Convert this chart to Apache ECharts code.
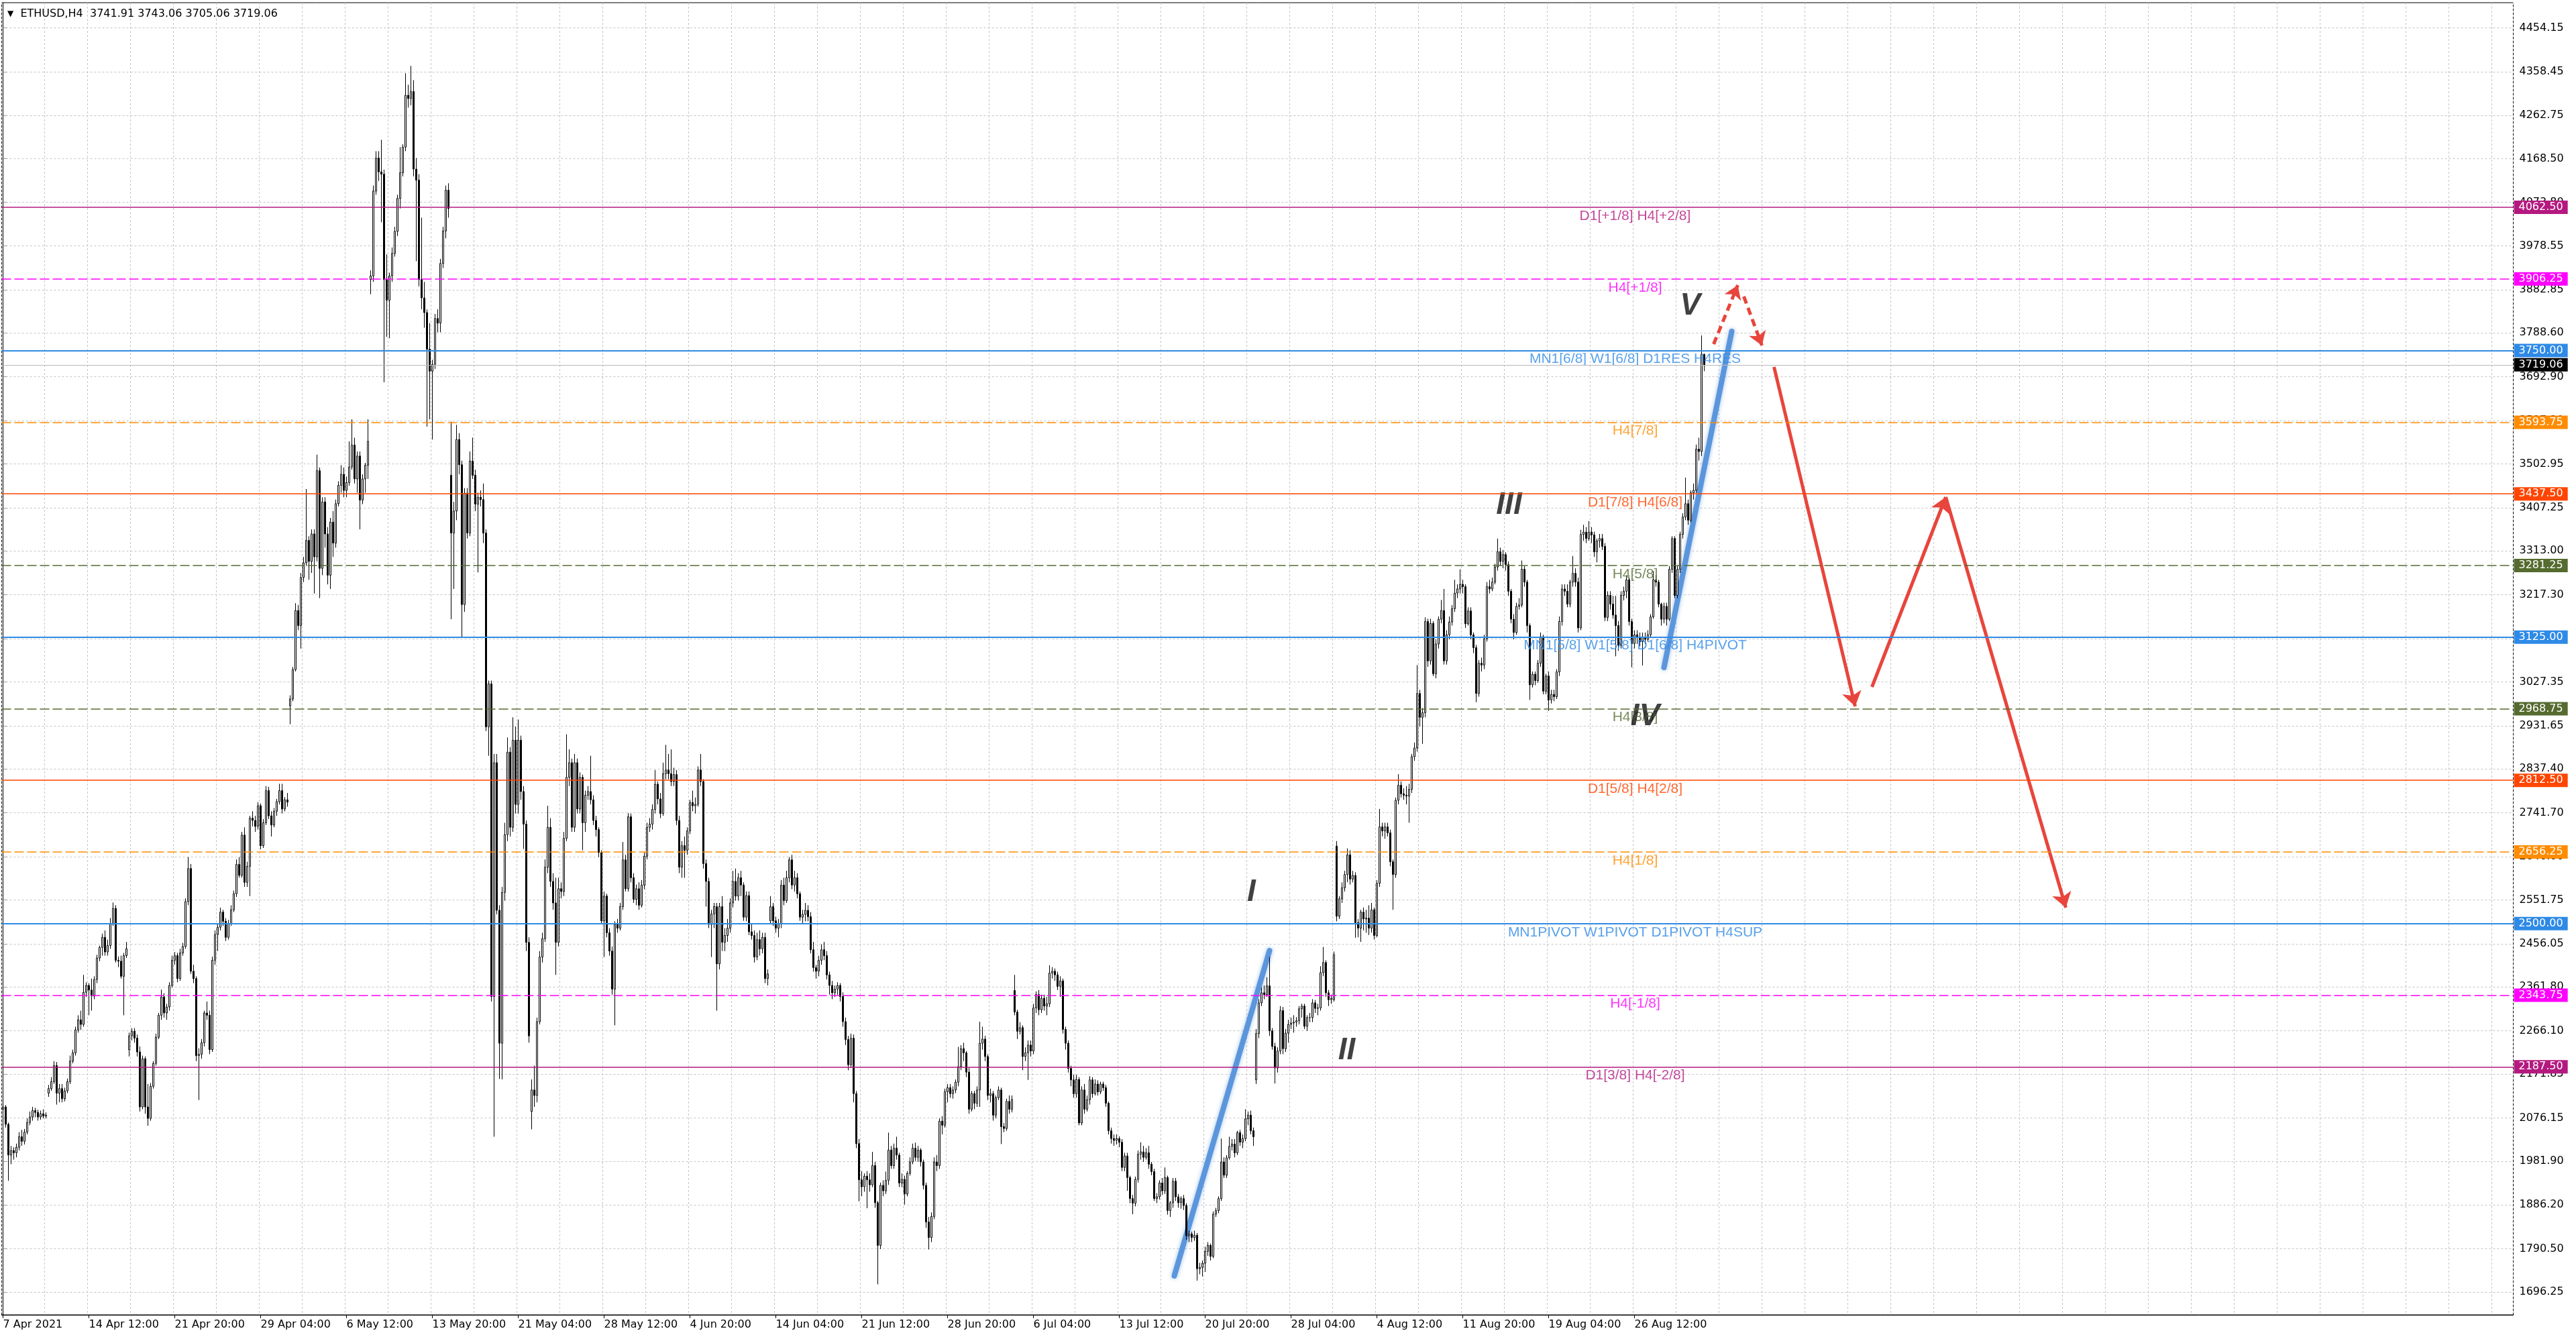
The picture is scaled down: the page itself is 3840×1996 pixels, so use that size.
<!DOCTYPE html>
<html>
<head>
<meta charset="utf-8">
<title>ETHUSD,H4</title>
<script src="https://cdn.jsdelivr.net/npm/echarts@6/dist/echarts.min.js"></script>
<style>
html, body { margin: 0; padding: 0; background: #fff; }
#chart { width: 3840px; height: 1996px; }
</style>
</head>
<body>
<div id="chart"></div>
<script>
// time axis labels, one every 32 bars
var timeLabels = ['7 Apr 2021', '14 Apr 12:00', '21 Apr 20:00', '29 Apr 04:00', '6 May 12:00', '13 May 20:00',
    '21 May 04:00', '28 May 12:00', '4 Jun 20:00', '14 Jun 04:00', '21 Jun 12:00', '28 Jun 20:00', '6 Jul 04:00',
    '13 Jul 12:00', '20 Jul 20:00', '28 Jul 04:00', '4 Aug 12:00', '11 Aug 20:00', '19 Aug 04:00', '26 Aug 12:00'];

// price scale labels as printed by the terminal
var priceTicks = [4454.15, 4358.45, 4262.75, 4168.50, 4073.80, 3978.55, 3882.85, 3788.60, 3692.90, 3597.20,
    3502.95, 3407.25, 3313.00, 3217.30, 3121.60, 3027.35, 2931.65, 2837.40, 2741.70, 2646.00, 2551.75,
    2456.05, 2361.80, 2266.10, 2171.85, 2076.15, 1981.90, 1886.20, 1790.50, 1696.25];

// H4 bars: [open, close, low, high]
var ohlc = [
[2095,2100,2088,2110],[2100,2062,2055,2104],[2062,1995,1939,2066],[1995,2005,1975,2015],[2005,2000,1985,2012],[2000,2012,1990,2020],[2012,2035,2005,2045],[2035,2025,2015,2050],[2025,2045,2018,2052],[2045,2066,2040,2075],[2066,2078,2060,2090],[2078,2092,2070,2100],[2092,2088,2078,2098],[2088,2078,2070,2094],[2078,2085,2072,2092],[2085,2080,2075,2095],[2080,2082,2075,2088],
[2130,2140,2122,2148],[2140,2155,2135,2165],[2155,2190,2150,2200],[2190,2130,2105,2198],[2130,2140,2110,2150],[2140,2118,2110,2150],[2118,2135,2112,2142],[2135,2155,2130,2162],[2155,2200,2150,2212],[2200,2218,2195,2225],[2218,2268,2212,2275],[2268,2290,2262,2300],[2290,2280,2268,2310],[2280,2350,2275,2388],[2350,2365,2340,2372],[2365,2355,2300,2370],[2355,2342,2310,2380],[2342,2378,2335,2385],
[2378,2425,2370,2432],[2425,2448,2418,2452],[2448,2470,2430,2478],[2470,2438,2430,2485],[2438,2452,2430,2465],[2452,2500,2445,2512],[2500,2533,2495,2546],[2533,2420,2415,2540],[2420,2418,2405,2428],[2418,2385,2380,2430],[2385,2430,2300,2436],[2430,2445,2425,2460],
[2225,2255,2210,2262],[2255,2265,2245,2272],[2265,2250,2240,2272],[2250,2220,2210,2258],[2220,2100,2090,2232],[2100,2205,2095,2212],[2205,2100,2085,2210],[2100,2075,2059,2150],[2075,2145,2070,2152],[2145,2195,2140,2200],[2195,2252,2190,2260],[2252,2300,2248,2305],[2300,2340,2290,2356],[2340,2305,2295,2348],[2305,2318,2290,2325],[2318,2365,2310,2372],[2365,2420,2360,2430],[2420,2430,2410,2438],[2430,2380,2372,2436],[2380,2436,2375,2445],[2436,2450,2430,2458],[2450,2548,2445,2555],[2548,2620,2540,2645],[2620,2396,2390,2630],[2396,2380,2370,2410],[2380,2212,2200,2385],[2212,2215,2115,2228],[2215,2240,2205,2248],[2240,2305,2232,2310],[2305,2300,2290,2330],[2300,2225,2215,2310],[2225,2420,2220,2428],
[2420,2476,2410,2485],[2476,2492,2440,2500],[2492,2525,2485,2535],[2525,2505,2495,2530],[2505,2470,2462,2512],[2470,2500,2465,2508],[2500,2530,2495,2540],[2530,2565,2525,2572],[2565,2629,2558,2640],[2629,2605,2600,2645],[2605,2693,2600,2700],[2693,2590,2580,2710],[2590,2625,2580,2635],[2625,2730,2560,2735],[2730,2725,2712,2745],[2725,2712,2700,2735],[2712,2757,2705,2765],[2757,2670,2662,2762],[2670,2720,2665,2728],[2720,2790,2715,2800],[2790,2735,2728,2798],[2735,2715,2690,2745],[2715,2745,2710,2752],[2745,2766,2735,2772],[2766,2790,2760,2805],[2790,2750,2740,2805],[2750,2770,2745,2776],[2770,2765,2755,2785],
[2975,2990,2935,2998],[2990,3054,2985,3060],[3054,3183,3050,3199],[3183,3150,3140,3195],[3150,3255,3100,3265],[3255,3287,3245,3300],[3287,3336,3280,3448],[3336,3290,3250,3345],[3290,3350,3265,3360],[3350,3300,3220,3360],[3300,3488,3290,3523],[3488,3275,3210,3495],[3275,3420,3260,3430],[3420,3350,3320,3430],[3350,3260,3240,3365],[3260,3376,3230,3385],[3376,3330,3300,3400],[3330,3416,3320,3425],[3416,3456,3410,3465],[3456,3480,3440,3500],[3480,3445,3430,3495],[3445,3462,3430,3475],[3462,3496,3455,3552],[3496,3544,3490,3600],[3544,3470,3460,3560],[3470,3520,3440,3530],[3520,3424,3360,3530],[3424,3470,3415,3480],[3470,3500,3440,3505],[3500,3552,3470,3600],
[3905,3913,3873,3925],[3913,4098,3900,4110],[4098,4170,4090,4185],[4170,4140,4120,4185],[4140,4135,4030,4210],[4135,3905,3681,4145],[3905,3860,3780,3960],[3860,3913,3777,3920],[3913,3962,3900,3975],[3962,4010,3955,4020],[4010,4082,4000,4090],[4082,4138,4060,4194],[4138,4194,4130,4200],[4194,4307,4185,4355],[4307,4300,4280,4330],[4300,4315,4285,4371],[4315,4146,4130,4340],[4146,4122,3945,4170],[4122,3905,3890,4135],[3905,3865,3840,4040],[3865,3833,3800,3900],[3833,3753,3584,3840],[3753,3705,3600,3810],[3705,3720,3556,3730],[3720,3820,3710,3830],[3820,3810,3790,3840],[3810,3940,3790,3950],[3940,4011,3930,4020],[4011,4100,3995,4110],[4100,4060,4040,4115],
[3478,3352,3164,3595],[3352,3400,3230,3420],[3400,3556,3380,3588],[3556,3501,3480,3570],[3501,3196,3125,3510],[3196,3439,3180,3450],[3439,3352,3340,3450],[3352,3509,3345,3530],[3509,3478,3470,3560],[3478,3415,3400,3490],[3415,3430,3266,3440],[3430,3425,3410,3445],[3425,3352,3330,3460],[3352,2929,2920,3360],[2929,3023,2866,3030],[3023,2341,2330,3030],[2341,2851,2035,2870],[2851,2529,2520,2870],[2529,2239,2161,2540],[2239,2568,2160,2580],[2568,2694,2550,2720],[2694,2874,2680,2906],[2874,2710,2690,2885],[2710,2900,2700,2950],[2900,2760,2740,2930],[2760,2900,2740,2945],[2900,2788,2770,2910],[2788,2717,2663,2800],[2717,2459,2440,2725],[2459,2255,2240,2470],
[2090,2137,2051,2160],[2137,2125,2100,2190],[2125,2286,2110,2295],[2286,2427,2280,2440],[2427,2467,2415,2480],[2467,2623,2460,2640],[2623,2710,2610,2757],[2710,2592,2580,2730],[2592,2545,2530,2610],[2545,2459,2388,2600],[2459,2576,2450,2600],[2576,2570,2555,2590],[2570,2686,2560,2700],[2686,2819,2680,2913],[2819,2851,2800,2880],[2851,2710,2700,2860],[2710,2851,2700,2870],[2851,2750,2740,2860],[2750,2819,2740,2830],[2819,2720,2660,2825],[2720,2780,2700,2790],[2780,2788,2770,2800],[2788,2770,2760,2866],[2770,2725,2715,2780],[2725,2705,2690,2735],[2705,2655,2645,2710],[2655,2506,2500,2660],[2506,2560,2427,2570],[2560,2480,2470,2565],[2480,2440,2430,2490],[2440,2357,2345,2450],[2357,2498,2278,2505],
[2498,2490,2480,2510],[2490,2537,2485,2545],[2537,2639,2530,2678],[2639,2576,2570,2650],[2576,2733,2570,2741],[2733,2600,2590,2740],[2600,2553,2545,2610],[2553,2576,2540,2585],[2576,2540,2530,2590],[2540,2584,2535,2595],[2584,2647,2575,2655],[2647,2710,2640,2720],[2710,2717,2700,2730],[2717,2749,2705,2760],[2749,2804,2740,2835],[2804,2772,2760,2810],[2772,2740,2730,2785],[2740,2827,2735,2851],[2827,2835,2815,2890],[2835,2827,2815,2870],[2827,2810,2800,2880],[2810,2825,2800,2840],[2825,2725,2715,2835],[2725,2623,2610,2735],[2623,2670,2600,2680],[2670,2660,2600,2690],[2660,2702,2650,2710],[2702,2764,2695,2770],[2764,2757,2745,2790],[2757,2760,2740,2775],[2760,2835,2755,2843],[2835,2810,2800,2870],
[2810,2631,2620,2815],[2631,2592,2537,2640],[2592,2498,2490,2600],[2498,2521,2427,2530],[2521,2537,2490,2545],[2537,2412,2310,2545],[2412,2537,2400,2545],[2537,2459,2440,2560],[2459,2474,2440,2490],[2474,2490,2460,2510],[2490,2545,2480,2555],[2545,2592,2535,2615],[2592,2560,2550,2620],[2560,2600,2550,2610],[2600,2584,2560,2615],[2584,2514,2506,2590],[2514,2561,2505,2570],[2561,2482,2475,2570],[2482,2474,2465,2500],[2474,2427,2415,2485],[2427,2465,2420,2480],[2465,2445,2430,2485],[2445,2470,2435,2480],[2470,2380,2370,2480],[2380,2390,2365,2400],
[2506,2537,2500,2560],[2537,2506,2495,2545],[2506,2490,2480,2515],[2490,2500,2470,2510],[2500,2584,2490,2595],[2584,2550,2540,2600],[2550,2600,2545,2615],[2600,2639,2590,2645],[2639,2584,2575,2650],[2584,2600,2570,2615],[2600,2565,2555,2610],[2565,2514,2506,2570],[2514,2520,2500,2530],[2520,2529,2505,2545],[2529,2515,2505,2540],[2515,2443,2435,2525],[2443,2404,2395,2460],[2404,2396,2380,2410],[2396,2420,2385,2430],[2420,2443,2410,2455],[2443,2430,2420,2460],[2430,2388,2378,2440],[2388,2365,2345,2395],[2365,2349,2335,2375],[2349,2357,2340,2365],[2357,2365,2345,2372],[2365,2341,2330,2370],[2341,2286,2275,2350],[2286,2247,2235,2295],[2247,2192,2180,2255],[2192,2250,2185,2260],[2250,2129,2110,2258],[2129,2020,2010,2135],[2020,1941,1894,2030],[1941,1926,1905,1960],[1926,1949,1915,1955],[1949,1941,1879,1960],
[1941,1930,1915,1955],[1930,1972,1925,2002],[1972,1891,1880,1980],[1891,1798,1713,1895],[1798,1929,1790,1935],[1929,1917,1905,1940],[1917,1940,1910,1959],[1940,2006,1930,2044],[2006,1972,1965,2015],[1972,2010,1965,2020],[2010,1995,1985,2035],[1995,1934,1925,2000],[1934,1942,1925,1955],[1942,1910,1887,1950],[1910,1955,1905,1960],[1955,1980,1950,1990],[1980,2010,1975,2020],[2010,1990,1982,2022],[1990,2006,1980,2015],[2006,1980,1970,2010],[1980,1929,1920,1985],[1929,1849,1836,1935],[1849,1815,1789,1860],[1815,1861,1805,1870],[1861,1980,1855,1990],[1980,1972,1960,1995],[1972,2069,1965,2075],
[2069,2060,2040,2080],[2060,2133,2055,2140],[2133,2142,2110,2150],[2142,2129,2120,2150],[2129,2137,2118,2145],[2137,2154,2130,2160],[2154,2188,2145,2231],[2188,2227,2180,2235],[2227,2218,2200,2240],[2218,2176,2165,2222],[2176,2095,2085,2185],[2095,2129,2090,2135],[2129,2108,2095,2135],[2108,2137,2100,2145],[2137,2239,2100,2286],[2239,2248,2225,2275],[2248,2210,2200,2255],[2210,2125,2115,2215],[2125,2129,2110,2140],[2129,2082,2070,2135],[2082,2120,2075,2125],[2120,2137,2115,2145],[2137,2057,2019,2142],[2057,2053,2045,2065],[2053,2112,2048,2118],[2112,2095,2085,2125],[2095,2116,2088,2125],
[2354,2307,2300,2388],[2307,2265,2248,2312],[2265,2273,2258,2285],[2273,2210,2180,2278],[2210,2218,2200,2230],[2218,2235,2159,2245],[2235,2222,2210,2245],[2222,2316,2215,2325],[2316,2345,2305,2352],[2345,2312,2300,2355],[2312,2337,2305,2345],[2337,2320,2310,2345],[2320,2325,2300,2340],[2325,2392,2318,2409],[2392,2396,2380,2405],[2396,2388,2375,2402],[2388,2363,2355,2395],[2363,2375,2340,2385],[2375,2269,2260,2380],[2269,2239,2225,2275],[2239,2184,2175,2245],[2184,2159,2145,2190],[2159,2129,2120,2170],[2129,2160,2120,2170],[2160,2065,2060,2165],[2065,2137,2060,2145],[2137,2095,2085,2150],[2095,2116,2090,2125],[2116,2159,2105,2167],[2159,2129,2120,2165],[2129,2150,2125,2160],[2150,2133,2125,2158],
[2133,2150,2128,2155],[2150,2142,2135,2155],[2142,2108,2100,2148],[2108,2048,2040,2112],[2048,2031,2020,2055],[2031,2027,2015,2040],[2027,2031,2018,2040],[2031,2023,2012,2036],[2023,1968,1960,2030],[1968,1993,1960,2000],[1993,1946,1917,2000],[1946,1900,1890,1950],[1900,1890,1866,1908],[1890,1942,1883,1948],[1942,1997,1935,2005],[1997,2002,1985,2023],[2002,1990,1980,2015],[1990,2000,1985,2010],[2000,1975,1965,2015],[1975,1959,1951,1980],[1959,1900,1895,1965],[1900,1904,1890,1912],[1904,1934,1898,1940],[1934,1917,1908,1945],[1917,1946,1910,1968],[1946,1874,1865,1950],[1874,1891,1860,1895],[1891,1938,1880,1945],[1938,1904,1895,1945],[1904,1891,1880,1910],[1891,1900,1878,1905],[1900,1885,1875,1908],
[1885,1819,1810,1890],[1819,1823,1805,1830],[1823,1815,1805,1828],[1815,1820,1808,1830],[1820,1747,1721,1825],[1747,1750,1735,1760],[1750,1759,1730,1765],[1759,1785,1740,1795],[1785,1798,1775,1805],[1798,1774,1765,1802],[1774,1866,1770,1872],[1866,1874,1860,1880],[1874,1900,1868,1905],[1900,1980,1895,2031],[1980,1951,1945,1990],[1951,1989,1945,1995],[1989,2014,1985,2035],[2014,2019,2005,2030],[2019,2000,1990,2030],[2000,2044,1995,2048],[2044,2023,2015,2050],[2023,2031,2010,2040],[2031,2074,2025,2095],[2074,2082,2060,2090],[2082,2048,2040,2092],[2048,2035,2015,2055],
[2159,2260,2150,2270],[2260,2327,2250,2335],[2327,2349,2320,2360],[2349,2345,2335,2365],[2345,2364,2340,2383],[2364,2266,2255,2427],[2266,2232,2225,2272],[2232,2185,2151,2240],[2185,2222,2175,2230],[2222,2310,2215,2320],[2310,2227,2215,2318],[2227,2261,2220,2270],[2261,2280,2240,2290],[2280,2283,2270,2295],[2283,2285,2262,2300],[2285,2288,2275,2296],[2288,2314,2280,2320],[2314,2320,2295,2325],[2320,2276,2270,2325],[2276,2295,2266,2300],[2295,2295,2285,2305],[2295,2327,2285,2335],[2327,2315,2305,2333],[2315,2316,2300,2325],[2316,2393,2310,2407],[2393,2415,2385,2449],[2415,2349,2340,2420],[2349,2334,2320,2355],[2334,2337,2325,2345],[2334,2432,2330,2439],
[2669,2516,2505,2680],[2516,2554,2510,2560],[2554,2578,2545,2590],[2578,2607,2570,2615],[2607,2650,2590,2664],[2650,2597,2585,2660],[2597,2605,2590,2615],[2605,2502,2469,2612],[2502,2490,2470,2510],[2490,2525,2460,2530],[2525,2510,2485,2535],[2510,2512,2480,2530],[2512,2490,2475,2540],[2490,2530,2480,2545],[2530,2474,2465,2535],[2474,2588,2470,2595],[2588,2711,2580,2750],[2711,2702,2690,2720],[2702,2711,2685,2720],[2711,2698,2690,2720],[2698,2635,2625,2705],[2635,2607,2530,2640],[2607,2769,2600,2775],[2769,2802,2760,2826],[2802,2783,2775,2810],[2783,2780,2770,2795],[2780,2778,2760,2800],[2778,2793,2720,2805],[2793,2864,2785,2870],[2864,2883,2855,2895],[2883,3002,2875,3064],[3002,2950,2930,3010],
[2950,2960,2892,2970],[2960,3159,2950,3168],[3159,3073,3060,3165],[3073,3155,3065,3165],[3155,3045,3040,3160],[3045,3110,3035,3120],[3110,3164,3100,3170],[3164,3183,3155,3206],[3183,3073,3065,3230],[3073,3130,3065,3140],[3130,3158,3120,3170],[3158,3187,3150,3195],[3187,3221,3180,3250],[3221,3230,3210,3240],[3230,3240,3220,3273],[3240,3235,3220,3250],[3235,3154,3145,3240],[3154,3182,3150,3190],[3182,3130,3120,3190],[3130,3102,3090,3135],[3102,3002,2983,3108],[3002,3068,2995,3075],[3068,3064,3050,3080],[3064,3121,3055,3130],[3121,3235,3115,3245],[3235,3230,3220,3250],[3230,3245,3225,3255],[3245,3278,3240,3285],[3278,3311,3270,3340],[3311,3290,3280,3320],[3290,3305,3275,3315],[3305,3283,3270,3310],
[3283,3225,3215,3290],[3225,3164,3155,3230],[3164,3135,3120,3175],[3135,3192,3130,3200],[3192,3195,3185,3210],[3195,3273,3190,3292],[3273,3245,3235,3280],[3245,3150,3135,3250],[3150,3021,2988,3155],[3021,3044,3015,3050],[3044,3030,3020,3050],[3030,3068,3025,3075],[3068,3126,3060,3135],[3126,3007,3000,3130],[3007,3040,3000,3045],[3040,2988,2964,3050],[2988,3000,2980,3010],[3000,2995,2985,3010],[2995,3049,2990,3055],[3049,3159,3040,3170],[3159,3230,3150,3240],[3230,3225,3215,3240],[3225,3197,3190,3240],[3197,3245,3190,3250],[3245,3264,3235,3302],[3264,3245,3235,3275],[3245,3145,3135,3255],[3145,3349,3140,3359],[3349,3354,3335,3370],[3354,3340,3330,3365],[3340,3354,3335,3378],[3354,3348,3330,3365],
[3348,3311,3300,3355],[3311,3335,3288,3340],[3335,3340,3320,3350],[3340,3323,3315,3350],[3323,3168,3160,3330],[3168,3216,3160,3225],[3216,3197,3185,3225],[3197,3173,3165,3215],[3173,3150,3083,3215],[3150,3107,3095,3160],[3107,3216,3100,3225],[3216,3225,3205,3235],[3225,3250,3210,3260],[3250,3159,3150,3255],[3159,3111,3059,3165],[3111,3130,3100,3140],[3130,3125,3110,3140],[3125,3115,3105,3135],[3115,3125,3063,3135],[3125,3120,3110,3135],[3120,3130,3115,3140],[3130,3169,3125,3175],[3169,3250,3165,3269],[3250,3245,3235,3260],[3245,3197,3190,3250],[3197,3164,3150,3200],[3164,3192,3155,3200],[3192,3164,3150,3200],[3164,3273,3160,3280],[3273,3340,3265,3345],[3340,3216,3210,3345],[3216,3273,3210,3280],
[3273,3349,3265,3355],[3349,3387,3340,3395],[3387,3416,3380,3473],[3416,3380,3370,3425],[3380,3440,3375,3445],[3440,3445,3425,3460],[3445,3535,3440,3545],[3535,3530,3510,3560],[3530,3741.91,3520,3783],[3741.91,3719.06,3705.06,3743.06]
];

// Murrey-style levels drawn by the indicator
var levelPrices = [4062.50, 3906.25, 3750.00, 3593.75, 3437.50, 3281.25, 3125.00, 2968.75, 2812.50, 2656.25, 2500.00, 2343.75, 2187.50];
var levelNames = ['D1[+1/8] H4[+2/8]', 'H4[+1/8]', 'MN1[6/8] W1[6/8] D1RES H4RES', 'H4[7/8]', 'D1[7/8] H4[6/8]', 'H4[5/8]',
    'MN1[5/8] W1[5/8] D1[6/8] H4PIVOT', 'H4[3/8]', 'D1[5/8] H4[2/8]', 'H4[1/8]', 'MN1PIVOT W1PIVOT D1PIVOT H4SUP', 'H4[-1/8]', 'D1[3/8] H4[-2/8]'];

// hand drawn wave count: label, bar, price
var waveNames = ['I', 'II', 'III', 'IV', 'V'];
var waveBars = [465.25, 500.75, 561.25, 612, 628.75];
var wavePrices = [2568, 2223, 3413, 2952, 3847];

// drawn lines as [bar, price] pairs
var trendPaths = [[[436.5, 1731.3], [472, 2441.1]], [[619, 3058.7], [644.25, 3791.9]]];
var projDashed = [[[637.5, 3764.1], [646.5, 3892.9]], [[648.75, 3868.0], [655.5, 3761.2]]];
var projArrows = [[[660, 3714.3], [690.25, 2973.8]], [[696.5, 3016.2], [724, 3430.4]], [[724, 3430.4], [768.75, 2534.8]]];

// styles
var levelColors = ['#B4197F', '#FF00FF', '#2E8AE6', '#FF8C00', '#FF4500', '#556B2F', '#2E8AE6', '#556B2F', '#FF4500', '#FF8C00', '#2E8AE6', '#FF00FF', '#B4197F'];
var levelDashed = [false, true, false, true, false, true, false, true, false, true, false, true, false];
var BAR_SLOTS = 936;
var LABEL_BAR = 608.25;
var AXIS_FONT = 'DejaVu Sans';

var categories = [];
for (var i = 0; i < BAR_SLOTS; i++) categories.push(String(i));

var last = ohlc[ohlc.length - 1];
var header = '{t|\u25BC}  ETHUSD,H4  ' + last[0].toFixed(2) + ' ' + last[3].toFixed(2) + ' ' +
    last[2].toFixed(2) + ' ' + last[1].toFixed(2);

function isLabelBar(idx) {
    return idx % 32 === 0 && idx / 32 < timeLabels.length;
}

function tag(price, bg) {
    return {
        show: true, position: 'end', distance: 1, formatter: price.toFixed(2),
        backgroundColor: bg, color: '#fff', padding: [2, 7, 1, 7], lineHeight: 17,
        fontFamily: AXIS_FONT, fontSize: 16
    };
}

var levelLines = levelPrices.map(function (p, i) {
    return {
        yAxis: p,
        lineStyle: {
            color: levelColors[i],
            type: levelDashed[i] ? [14, 5] : 'solid',
            width: levelColors[i] === '#2E8AE6' ? 2 : 1.5
        },
        label: tag(p, levelColors[i])
    };
});
levelLines.push({
    yAxis: last[1],
    lineStyle: {color: '#b8b8b8', type: 'solid', width: 1},
    label: tag(last[1], '#000')
});

var chart = echarts.init(document.getElementById('chart'));

var option = {
    backgroundColor: '#fff',
    animation: false,
    title: {
        text: header, left: 6, top: 8,
        textStyle: {fontFamily: AXIS_FONT, fontSize: 16, fontWeight: 'normal', color: '#000',
            rich: {t: {fontSize: 12, color: '#000'}}}
    },
    grid: {left: 2.5, right: 93.5, top: 4, bottom: 36, show: true, borderColor: '#000', borderWidth: 1, backgroundColor: '#fff'},
    xAxis: [{
        type: 'category', data: categories, boundaryGap: true,
        axisLine: {show: true, onZero: false, lineStyle: {color: '#000', width: 1}},
        axisTick: {show: true, alignWithLabel: true, interval: isLabelBar, length: 5, lineStyle: {color: '#000'}},
        axisLabel: {
            show: true, interval: isLabelBar, align: 'left', margin: 7,
            formatter: function (v, idx) { return timeLabels[idx / 32] || ''; },
            fontFamily: AXIS_FONT, fontSize: 16, color: '#000'
        },
        splitLine: {show: true, interval: function (idx) { return idx % 16 === 0; },
            lineStyle: {color: '#c4c4c4', type: [3, 3], width: 1}}
    }, {
        type: 'value', min: -0.5, max: BAR_SLOTS - 0.5, show: false
    }],
    yAxis: [{
        type: 'value', position: 'right', min: 1646.4, max: 4509.0,
        axisLine: {show: true, lineStyle: {color: '#000'}},
        axisTick: {show: true, customValues: priceTicks, length: 6, lineStyle: {color: '#999'}},
        axisLabel: {show: true, customValues: priceTicks, margin: 9,
            formatter: function (v) { return v.toFixed(2); },
            fontFamily: AXIS_FONT, fontSize: 16, color: '#000'},
        splitLine: {show: true, lineStyle: {color: '#c4c4c4', type: [3, 3], width: 1}}
    }],
    series: [{
        type: 'candlestick', name: 'ETHUSD', data: ohlc, barWidth: 3, large: false,
        itemStyle: {color: '#ffffff', color0: '#000000', borderColor: '#000000', borderColor0: '#000000', borderWidth: 1},
        markLine: {silent: true, symbol: 'none', animation: false, data: levelLines}
    }, {
        type: 'scatter', xAxisIndex: 1, symbolSize: 1, silent: true,
        itemStyle: {color: 'rgba(0,0,0,0)'},
        data: levelPrices.map(function (p, i) {
            return {value: [LABEL_BAR, p], label: {show: true, position: 'bottom', distance: 2,
                formatter: levelNames[i], color: levelColors[i], fontFamily: 'Liberation Sans', fontSize: 21}};
        })
    }, {
        type: 'scatter', xAxisIndex: 1, symbolSize: 1, silent: true,
        itemStyle: {color: 'rgba(0,0,0,0)'},
        data: waveNames.map(function (n, i) {
            return {value: [waveBars[i], wavePrices[i]], label: {show: true, position: 'inside',
                formatter: n, color: '#111', fontFamily: 'Liberation Sans', fontStyle: 'italic',
                fontWeight: 'bold', fontSize: 46}};
        })
    }, {
        type: 'lines', coordinateSystem: 'cartesian2d', xAxisIndex: 1, silent: true, symbol: 'none',
        lineStyle: {color: '#5B96DC', width: 8, opacity: 1, cap: 'round',
            shadowBlur: 6, shadowColor: 'rgba(91,150,220,0.6)'},
        data: trendPaths.map(function (c) { return {coords: c}; })
    }, {
        type: 'lines', coordinateSystem: 'cartesian2d', xAxisIndex: 1, silent: true,
        symbol: ['none', 'arrow'], symbolSize: 20,
        lineStyle: {color: '#E8453C', width: 5, opacity: 1, type: [11, 7]},
        data: projDashed.map(function (c) { return {coords: c}; })
    }, {
        type: 'lines', coordinateSystem: 'cartesian2d', xAxisIndex: 1, silent: true,
        symbol: ['none', 'arrow'], symbolSize: 22,
        lineStyle: {color: '#E8453C', width: 5, opacity: 1},
        data: projArrows.map(function (c) { return {coords: c}; })
    }]
};

chart.setOption(option);
window.onresize = function () {
    chart.resize();
};
</script>
</body>
</html>
